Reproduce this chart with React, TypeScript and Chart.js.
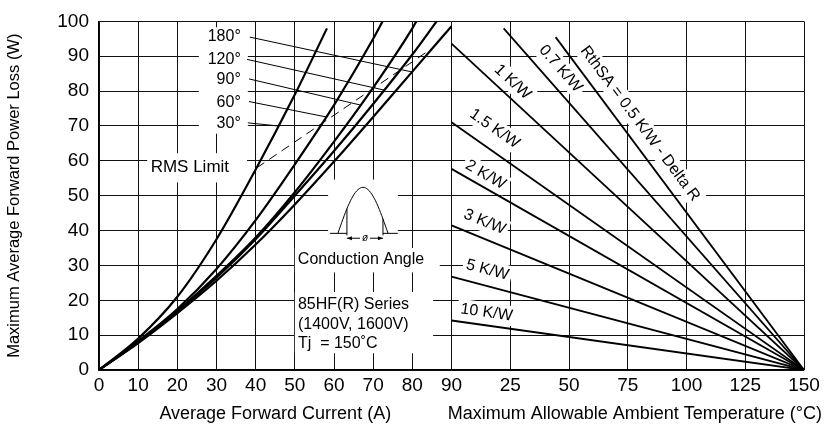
import React, { useEffect, useRef } from 'react';
import { Chart, registerables } from 'chart.js';
Chart.register(...registerables);

const FONT = "'Liberation Sans', Arial, sans-serif";

// ---------- data (left panel: power loss vs average current) ----------
const angleLabels = ['30°', '60°', '90°', '120°', '180°'];
const curveI: number[][] = [
  [0, 10, 20, 30, 40, 50, 58.2],
  [0, 10, 20, 30, 40, 50, 60, 70, 72.4],
  [0, 10, 20, 30, 40, 50, 60, 70, 80, 81],
  [0, 10, 20, 30, 40, 50, 60, 70, 80, 86.2],
  [0, 10, 20, 30, 40, 50, 60, 70, 80, 90],
];
const curveP: number[][] = [
  [0, 9, 21, 37.5, 57.5, 79, 98],
  [0, 8.3, 17.5, 29, 43, 59, 76, 95, 100],
  [0, 8, 17, 27, 38, 51, 65.5, 81, 98, 100],
  [0, 7.9, 16.8, 26.5, 37.5, 50, 62.8, 76.3, 90.5, 100],
  [0, 7.7, 16.3, 25.6, 36, 47.5, 59.8, 72.6, 85.6, 98.6],
];
const labelI = 36.2;
const labelP = [70.6, 76.8, 83.2, 89, 95.5];
const leaderStartI = [38, 38.3, 38.3, 37.8, 38.5];
const leaderStartP = [70.9, 77, 83.5, 89.1, 95.5];
const leaderEndI = [45.8, 58, 66.8, 72.8, 79.9];
const leaderEndP = [70, 72.6, 76, 80.3, 85.5];
const rmsLimitI = [40.3, 85.2];
const rmsLimitP = [58, 92.4];

// ---------- data (right panel: power vs ambient temperature) ----------
const rthLabels = ['RthSA = 0.5 K/W - Delta R', '0.7 K/W', '1 K/W', '1.5 K/W', '2 K/W', '3 K/W', '5 K/W', '10 K/W'];
const rthStartT = [44.3, 22.2, 0, 0, 0, 0, 0, 0];
const rthStartP = [95.5, 98, 93.6, 71.1, 57.7, 41.5, 26.8, 14.2];
const rthEndT = 150;
const rthEndP = 0;
const rthLabelT = [80.2, 46.4, 26, 18.3, 14.5, 14.1, 15.3, 14.9];
const rthLabelP = [70.7, 86.4, 82.6, 69.2, 56, 42.5, 28.7, 16.5];

// ---------- ticks ----------
const currentTicks = [0, 10, 20, 30, 40, 50, 60, 70, 80, 90];
const tempTicks = [25, 50, 75, 100, 125, 150];
const powerTicks = [0, 10, 20, 30, 40, 50, 60, 70, 80, 90, 100];

const LEFT_MAX = 90;
const TEMP_MAX = 150;
const tScale = LEFT_MAX / TEMP_MAX;
const toX = (t: number) => LEFT_MAX + t * tScale;
const X_MAX = toX(TEMP_MAX);
const xTickValues = [...currentTicks, ...tempTicks.map(toX)];

const seriesText = ['85HF(R) Series', '(1400V, 1600V)', 'Tj  = 150˚C'];

const annot = {
  id: 'annot',
  beforeDatasetsDraw(chart: any) {
    const { ctx } = chart;
    const xs = chart.scales.x, ys = chart.scales.y;
    const px = (v: number) => xs.getPixelForValue(v);
    const py = (v: number) => ys.getPixelForValue(v);
    ctx.save();
    // white backgrounds of text blocks
    ctx.fillStyle = '#fff';
    const boxes = [
      [25.5, 98.3, 38.0, 67.8],
      [12.3, 62.2, 37.8, 53.8],
      [58.5, 54.6, 76.3, 35],
      [50, 35, 87, 28],
      [50, 22.4, 85.3, 4.8],
    ];
    boxes.forEach(([x0, y0, x1, y1]) => {
      ctx.fillRect(px(x0), py(y0), px(x1) - px(x0), py(y1) - py(y0));
    });
    ctx.fillStyle = '#000';
    ctx.font = `16px ${FONT}`;
    ctx.textBaseline = 'middle';
    ctx.textAlign = 'right';
    angleLabels.forEach((l, i) => ctx.fillText(l, px(labelI), py(labelP[i])));
    ctx.textAlign = 'center';
    ctx.font = `17px ${FONT}`;
    ctx.fillText('RMS Limit', px(23.2), py(58));
    ctx.font = `16px ${FONT}`;
    ctx.fillText('Conduction Angle', px(66.9), py(31.7));
    ctx.textAlign = 'left';
    const seriesP = [18.7, 13.1, 7.5];
    seriesText.forEach((t, i) => ctx.fillText(t, px(50.8), py(seriesP[i])));

    // conduction angle icon
    ctx.strokeStyle = '#000';
    ctx.lineWidth = 1;
    const base = py(39.2), peak = py(52.4);
    const a0 = px(61), a1 = px(73.8);
    const arch = (x: number) => base - (base - peak) * Math.sin(Math.PI * (x - a0) / (a1 - a0));
    ctx.beginPath();
    ctx.moveTo(px(59), base); ctx.lineTo(px(63.3), base);
    ctx.moveTo(px(72.5), base); ctx.lineTo(px(76.3), base);
    ctx.stroke();
    ctx.beginPath();
    for (let k = 0; k <= 40; k++) {
      const x = a0 + (a1 - a0) * k / 40;
      if (k === 0) ctx.moveTo(x, arch(x)); else ctx.lineTo(x, arch(x));
    }
    ctx.stroke();
    const c0 = px(63.3), c1 = px(72.5);
    ctx.beginPath();
    ctx.moveTo(c0, arch(c0)); ctx.lineTo(c0, base + 2);
    ctx.moveTo(c1, arch(c1)); ctx.lineTo(c1, base + 2);
    ctx.stroke();
    const ay = py(37.8);
    ctx.beginPath();
    ctx.moveTo(c0, ay); ctx.lineTo(c1, ay);
    ctx.stroke();
    ctx.beginPath();
    ctx.moveTo(c0, ay); ctx.lineTo(c0 + 5, ay - 2); ctx.lineTo(c0 + 5, ay + 2); ctx.closePath();
    ctx.moveTo(c1, ay); ctx.lineTo(c1 - 5, ay - 2); ctx.lineTo(c1 - 5, ay + 2); ctx.closePath();
    ctx.fill();
    ctx.fillStyle = '#fff';
    ctx.fillRect((c0 + c1) / 2 - 5, ay - 5, 10, 10);
    ctx.fillStyle = '#000';
    ctx.font = `italic 10px ${FONT}`;
    ctx.textAlign = 'center';
    ctx.fillText('ø', (c0 + c1) / 2, ay);

    // rotated labels on the right panel
    ctx.font = `16px ${FONT}`;
    rthLabels.forEach((l, i) => {
      const x0 = px(toX(rthStartT[i])), y0 = py(rthStartP[i]);
      const x1 = px(toX(rthEndT)), y1 = py(rthEndP);
      const ang = Math.atan2(y1 - y0, x1 - x0);
      ctx.save();
      ctx.translate(px(toX(rthLabelT[i])), py(rthLabelP[i]));
      ctx.rotate(ang);
      const w = ctx.measureText(l).width;
      ctx.fillStyle = '#fff';
      ctx.fillRect(-w / 2 - 3, -10, w + 6, 20);
      ctx.fillStyle = '#000';
      ctx.textAlign = 'center';
      ctx.fillText(l, 0, 0);
      ctx.restore();
    });
    ctx.restore();
  },
  afterDraw(chart: any) {
    const { ctx } = chart;
    const xs = chart.scales.x;
    ctx.save();
    ctx.fillStyle = '#000';
    ctx.font = `18px ${FONT}`;
    ctx.textBaseline = 'middle';
    ctx.textAlign = 'center';
    const ty = chart.height - 20;
    ctx.fillText('Average Forward Current (A)', xs.getPixelForValue(LEFT_MAX / 2), ty);
    ctx.fillText('Maximum Allowable Ambient Temperature (°C)', xs.getPixelForValue(toX(78)), ty);
    ctx.restore();
  },
};

function buildConfig(): any {
  const datasets: any[] = [];
  curveI.forEach((xs, k) => {
    datasets.push({
      label: angleLabels[k],
      data: xs.map((v, j) => ({ x: v, y: curveP[k][j] })),
      showLine: true, borderColor: '#000', borderWidth: 2.2, pointRadius: 0,
      cubicInterpolationMode: 'monotone',
    });
  });
  datasets.push({
    label: 'RMS Limit',
    data: rmsLimitI.map((v, j) => ({ x: v, y: rmsLimitP[j] })),
    showLine: true, borderColor: '#000', borderWidth: 1, borderDash: [9, 6], pointRadius: 0,
  });
  leaderStartI.forEach((v, k) => {
    datasets.push({
      label: 'leader ' + angleLabels[k],
      data: [{ x: v, y: leaderStartP[k] }, { x: leaderEndI[k], y: leaderEndP[k] }],
      showLine: true, borderColor: '#000', borderWidth: 1, pointRadius: 0,
    });
  });
  rthLabels.forEach((l, k) => {
    datasets.push({
      label: l,
      data: [{ x: toX(rthStartT[k]), y: rthStartP[k] }, { x: toX(rthEndT), y: rthEndP }],
      showLine: true, borderColor: '#000', borderWidth: 1.8, pointRadius: 0,
    });
  });

  return {
    type: 'scatter',
    data: { datasets },
    plugins: [annot],
    options: {
      animation: false,
      responsive: false,
      events: [],
      layout: { padding: { left: 0, right: 24, top: 13, bottom: 0 } },
      plugins: { legend: { display: false }, tooltip: { enabled: false } },
      scales: {
        x: {
          type: 'linear', min: 0, max: X_MAX,
          afterBuildTicks: (s: any) => { s.ticks = xTickValues.map((v) => ({ value: v })); },
          afterFit: (s: any) => { s.height = 64; },
          grid: { color: '#111', lineWidth: 1, drawTicks: false },
          border: { color: '#000', width: 1.2 },
          ticks: {
            autoSkip: false, maxRotation: 0, padding: 4, color: '#000',
            font: { family: FONT, size: 19 },
            callback: (v: number) => (v <= LEFT_MAX ? String(v) : String(Math.round((v - LEFT_MAX) / tScale))),
          },
        },
        y: {
          type: 'linear', min: 0, max: 100,
          afterBuildTicks: (s: any) => { s.ticks = powerTicks.map((v) => ({ value: v })); },
          afterFit: (s: any) => { s.width = 99; },
          grid: { color: '#111', lineWidth: 1, drawTicks: false },
          border: { color: '#000', width: 1.2 },
          ticks: { padding: 10, color: '#000', font: { family: FONT, size: 19 } },
          title: {
            display: true, text: 'Maximum Average Forward Power Loss (W)', color: '#000',
            font: { family: FONT, size: 16.5 }, padding: { top: 5, bottom: 0 },
          },
        },
      },
    },
  };
}

export default function App() {
  const ref = useRef<HTMLCanvasElement>(null);
  useEffect(() => {
    const chart = new Chart(ref.current as HTMLCanvasElement, buildConfig());
    return () => chart.destroy();
  }, []);
  return (
    <div style={{ position: 'absolute', left: 0, top: 0, width: 828, height: 434, background: '#fff' }}>
      <canvas ref={ref} width={828} height={434} style={{ display: 'block', width: 828, height: 434 }} />
    </div>
  );
}
